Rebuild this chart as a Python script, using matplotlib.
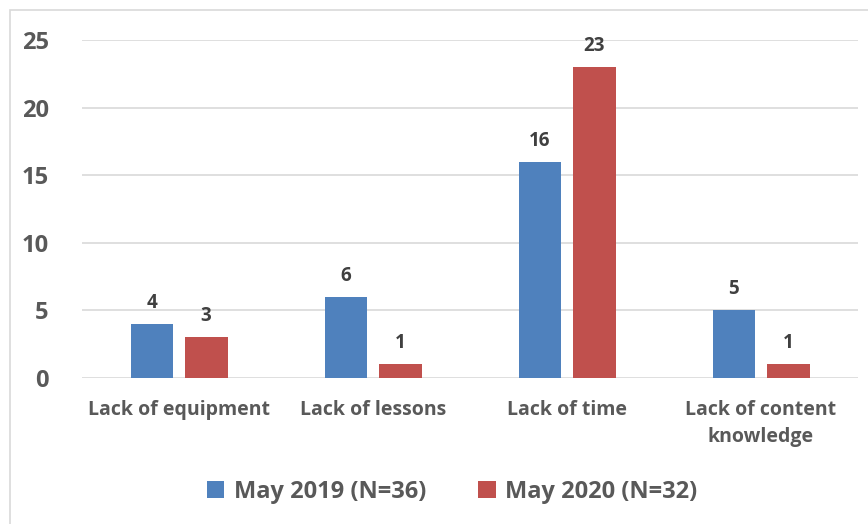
import matplotlib
matplotlib.use("Agg")
import matplotlib.pyplot as plt
import numpy as np
from matplotlib.patches import Rectangle

categories = ["Lack of equipment", "Lack of lessons", "Lack of time",
              "Lack of content\nknowledge"]
may_2019 = [4, 6, 16, 5]
may_2020 = [3, 1, 23, 1]
series_names = ["May 2019 (N=36)", "May 2020 (N=32)"]
yticks = [0, 5, 10, 15, 20, 25]

BLUE = "#4F81BD"
RED = "#C0504D"
TXT = "#595959"

plt.rcParams["font.family"] = ["Open Sans", "DejaVu Sans"]

fig = plt.figure(figsize=(8.68, 5.24), dpi=100)
ax = fig.add_axes([82 / 868, 1 - 378 / 524, 776 / 868, 338 / 524])

# outer chart frame
fig.patches.append(Rectangle((10 / 868, -0.05), 1.1, 1 - 10 / 524 + 0.05,
                             transform=fig.transFigure, fill=False,
                             edgecolor="#D9D9D9", lw=1.2))

x = np.arange(len(categories))
w, off = 0.22, 0.14
b1 = ax.bar(x - off, may_2019, w, color=BLUE, label=series_names[0], zorder=3)
b2 = ax.bar(x + off, may_2020, w, color=RED, label=series_names[1], zorder=3)
for bars in (b1, b2):
    for r in bars:
        v = r.get_height()
        ax.annotate(f"{v:g}", (r.get_x() + r.get_width() / 2, v),
                    xytext=(0, 8), textcoords="offset points",
                    ha="center", va="bottom", fontsize=13.5, fontweight="bold",
                    color="#404040")

ax.set_xlim(-0.5, len(categories) - 0.5)
ax.set_ylim(0, 25)
ax.set_yticks(yticks)
ax.yaxis.grid(True, color="#D9D9D9", lw=1.2, zorder=0)
ax.set_xticks(x)
ax.set_xticklabels(categories, fontsize=14, fontweight="bold", color=TXT,
                   linespacing=1.45)
for lab in ax.get_yticklabels():
    lab.set_fontsize(17)
    lab.set_fontweight("bold")
    lab.set_color(TXT)
ax.tick_params(axis="both", length=0)
ax.tick_params(axis="y", pad=24)
ax.tick_params(axis="x", pad=16)
for s in ax.spines.values():
    s.set_visible(False)

leg = fig.legend(loc="center", bbox_to_anchor=(452 / 868, 1 - 492 / 524),
                 ncol=2, frameon=False, handlelength=0.75, handleheight=0.75,
                 columnspacing=2.2, handletextpad=0.4,
                 prop={"size": 17, "weight": "bold"})
for t in leg.get_texts():
    t.set_color(TXT)

fig.savefig("out.png", dpi=100)
